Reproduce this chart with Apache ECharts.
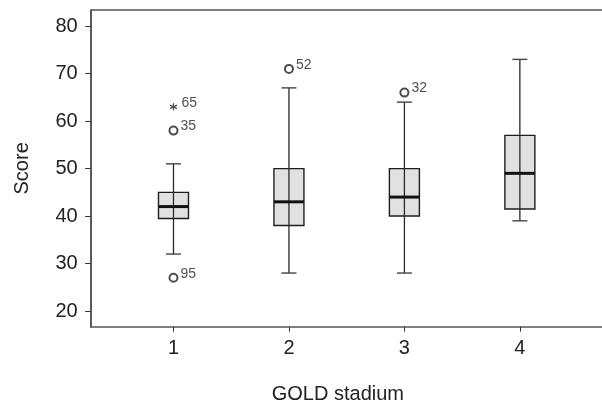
<!DOCTYPE html>
<html>
<head>
<meta charset="utf-8">
<script src="https://cdn.jsdelivr.net/npm/echarts@6/dist/echarts.min.js"></script>
<style>html,body{margin:0;padding:0;background:#fff;overflow:hidden}#c{width:602px;height:404px}</style>
</head>
<body>
<div id="c"></div>
<script>
var categories = [1, 2, 3, 4];
var whiskerLow = [32, 28, 28, 39];
var q1 = [39.5, 38, 40, 41.5];
var median = [42, 43, 44, 49];
var q3 = [45, 50, 50, 57];
var whiskerHigh = [51, 67, 64, 73];
var outlierPoints = [[1, 58, '35'], [1, 27, '95'], [2, 71, '52'], [3, 66, '32']];
var extremePoints = [[1, 63, '65']];
var yTicks = [20, 30, 40, 50, 60, 70, 80];

var boxData = categories.map(function (c, i) {
  return [c, whiskerLow[i], q1[i], median[i], q3[i], whiskerHigh[i]];
});

var FONT = 'Liberation Sans, Arial, sans-serif';
var chart = echarts.init(document.getElementById('c'));

function renderBox(params, api) {
  var x = api.value(0);
  var lo = api.coord([x, api.value(1)]);
  var b1 = api.coord([x, api.value(2)]);
  var md = api.coord([x, api.value(3)]);
  var b3 = api.coord([x, api.value(4)]);
  var hi = api.coord([x, api.value(5)]);
  var cx = lo[0], hw = 15, cw = 7.5;
  return {
    type: 'group',
    children: [
      {type: 'rect', shape: {x: cx - hw, y: b3[1], width: 2 * hw, height: b1[1] - b3[1]},
       style: {fill: '#e1e1e1', stroke: '#1e1e1e', lineWidth: 1.4}},
      {type: 'line', shape: {x1: cx, y1: hi[1], x2: cx, y2: lo[1]},
       style: {stroke: '#2a2a2a', lineWidth: 1.3}},
      {type: 'line', shape: {x1: cx - cw, y1: hi[1], x2: cx + cw, y2: hi[1]},
       style: {stroke: '#444', lineWidth: 1.4}},
      {type: 'line', shape: {x1: cx - cw, y1: lo[1], x2: cx + cw, y2: lo[1]},
       style: {stroke: '#444', lineWidth: 1.4}},
      {type: 'line', shape: {x1: cx - hw, y1: md[1], x2: cx + hw, y2: md[1]},
       style: {stroke: '#111', lineWidth: 3}}
    ]
  };
}

var ptLabel = {
  show: true, position: 'right', distance: 2, offset: [0, -4],
  formatter: function (p) { return p.value[2]; },
  color: '#222', fontSize: 14, fontFamily: FONT
};

chart.setOption({
  animation: false,
  grid: {show: false, borderWidth: 0, left: 90.7, right: -1, top: 10, bottom: 77.3, outerBoundsMode: 'none', containLabel: false},
  xAxis: {
    type: 'value', min: 0.283, max: 4.72,
    axisLine: {onZero: false, lineStyle: {color: '#555', width: 1.5}},
    axisTick: {show: true, length: 5, customValues: categories, lineStyle: {color: '#333'}},
    axisLabel: {customValues: categories, margin: 12, fontSize: 20, color: '#222', fontFamily: FONT},
    splitLine: {show: false}, splitArea: {show: false}, minorTick: {show: false}, minorSplitLine: {show: false},
    name: 'GOLD stadium', nameLocation: 'middle', nameGap: 58,
    nameTextStyle: {fontSize: 20, color: '#222', fontFamily: FONT, padding: [0, 18, 0, 0]}
  },
  yAxis: [{
    type: 'value', min: 16.7, max: 83.4,
    axisLine: {show: true, onZero: false, lineStyle: {color: '#222', width: 1.5}},
    axisTick: {show: true, length: 5.5, customValues: yTicks, lineStyle: {color: '#333'}},
    axisLabel: {customValues: yTicks, margin: 13, fontSize: 20, color: '#222', fontFamily: FONT},
    splitLine: {show: false}, splitArea: {show: false}, minorTick: {show: false}, minorSplitLine: {show: false},
    name: 'Score', nameLocation: 'middle', nameGap: 58,
    nameTextStyle: {fontSize: 20, color: '#222', fontFamily: FONT}
  }],
  series: [{
    type: 'custom', renderItem: renderBox, data: boxData, z: 2,
    markLine: {
      silent: true, symbol: 'none', label: {show: false},
      lineStyle: {color: '#555', width: 1.5, type: 'solid'},
      data: [{yAxis: 83.4}]
    }
  }, {
    type: 'scatter', data: outlierPoints, symbol: 'emptyCircle', symbolSize: 8,
    itemStyle: {color: '#222', borderColor: '#222', borderWidth: 1},
    label: ptLabel, z: 3
  }, {
    type: 'scatter', data: extremePoints,
    symbol: 'path://M0,-1L0,1M-0.87,-0.5L0.87,0.5M-0.87,0.5L0.87,-0.5', symbolSize: 7,
    itemStyle: {color: 'none', borderColor: '#222', borderWidth: 1.3},
    label: ptLabel, z: 3
  }]
});
</script>
</body>
</html>
